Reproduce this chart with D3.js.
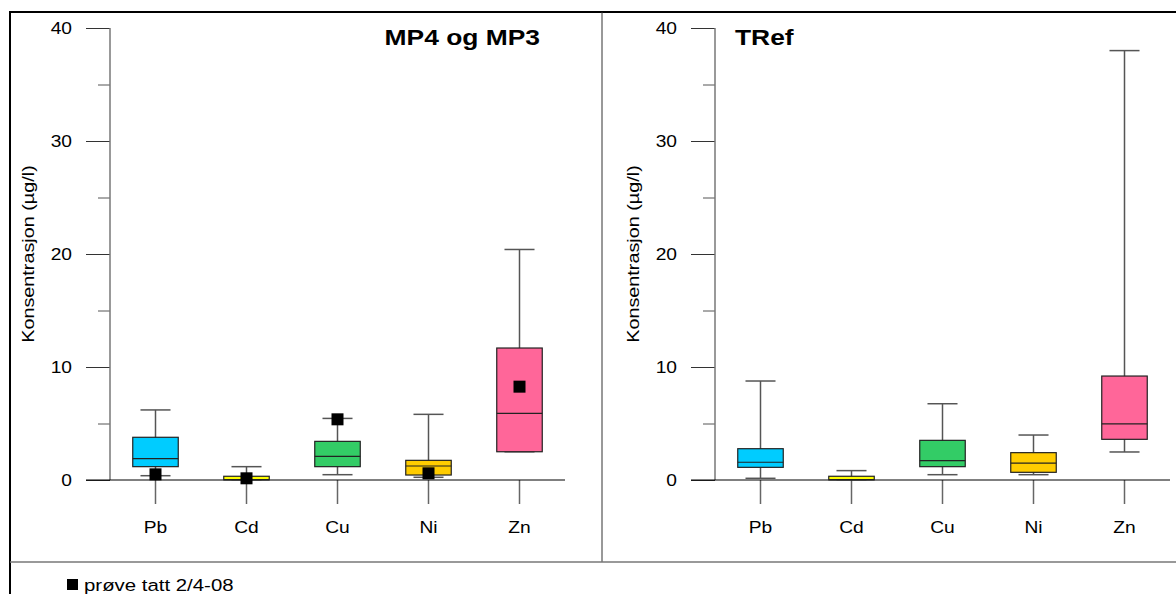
<!DOCTYPE html>
<html>
<head>
<meta charset="utf-8">
<script src="https://cdn.jsdelivr.net/npm/d3@7"></script>
<style>
  body { margin: 0; background: #fff; }
  text { font-family: "Liberation Sans", Arial, sans-serif; fill: #000; }
</style>
</head>
<body>
<div id="chart"></div>
<script>
// categories and colours
const elements = ["Pb", "Cd", "Cu", "Ni", "Zn"];
const boxColors = ["#00CCFF", "#FFFF00", "#33CC66", "#FFCC00", "#FF6699"];
const yTicks = [0, 10, 20, 30, 40];

// MP4 og MP3 (µg/l)
const mpLow    = [0.38, 0.02, 0.47, 0.24, 2.5];
const mpQ1     = [1.18, 0.02, 1.18, 0.44, 2.5];
const mpMedian = [1.89, 0.04, 2.09, 1.24, 5.9];
const mpQ3     = [3.78, 0.33, 3.42, 1.74, 11.68];
const mpHigh   = [6.2, 1.18, 5.45, 5.81, 20.4];
const mpSample = [0.5, 0.15, 5.37, 0.59, 8.26];   // prøve tatt 2/4-08

// TRef (µg/l)
const trefLow    = [0.15, 0.02, 0.47, 0.47, 2.48];
const trefQ1     = [1.12, 0.02, 1.18, 0.68, 3.6];
const trefMedian = [1.57, 0.04, 1.71, 1.5, 4.96];
const trefQ3     = [2.77, 0.33, 3.51, 2.42, 9.2];
const trefHigh   = [8.76, 0.83, 6.75, 3.98, 38.0];

const W = 1176, H = 594;
const sx = 1.2; // text in the original is a bit wider than normal

const svg = d3.select("#chart")
    .append("svg")
        .attr("width", W)
        .attr("height", H);

// frame
svg.append("rect")
    .attr("x", 10).attr("y", 12)
    .attr("width", W).attr("height", H)
    .attr("fill", "none")
    .attr("stroke", "#000")
    .attr("stroke-width", 2);

svg.append("line")
    .attr("x1", 602).attr("x2", 602)
    .attr("y1", 12).attr("y2", 562)
    .attr("stroke", "#333");

svg.append("line")
    .attr("x1", 10).attr("x2", W)
    .attr("y1", 562).attr("y2", 562)
    .attr("stroke", "#777")
    .attr("stroke-width", 1.5);

const y = d3.scaleLinear()
    .domain([0, 40])
    .range([480, 28]);

function stretchedText(g, x, y, str, size, anchor, weight) {
    return g.append("text")
        .attr("transform", `translate(${x},${y}) scale(${sx},1)`)
        .attr("text-anchor", anchor || "start")
        .style("font-size", size + "px")
        .style("font-weight", weight || "normal")
        .text(str);
}

function drawPanel(axisX, stats, title, titleX, titleAnchor) {
    const g = svg.append("g");

    const x = d3.scaleBand()
        .domain(elements)
        .range([axisX, axisX + 455]);

    // minor ticks
    g.append("g")
        .attr("transform", `translate(${axisX},0)`)
        .call(d3.axisLeft(y).tickValues(d3.range(5, 40, 10)).tickSize(12).tickFormat(""))
        .call(a => a.select(".domain").remove())
        .selectAll("line").attr("stroke", "#555");

    // major ticks + labels
    const yAxis = g.append("g")
        .attr("transform", `translate(${axisX},0)`)
        .call(d3.axisLeft(y).tickValues(yTicks).tickSize(24).tickPadding(14))
        .call(a => a.select(".domain").remove());
    yAxis.selectAll("line").attr("stroke", "#333");
    yAxis.selectAll("text")
        .attr("x", -38 / sx)
        .attr("transform", `scale(${sx},1)`)
        .style("font-size", "16px")
        .style("font-family", "Liberation Sans, Arial, sans-serif");

    g.append("line")
        .attr("x1", axisX).attr("x2", axisX)
        .attr("y1", y(0)).attr("y2", y(40))
        .attr("stroke", "#777")
        .attr("stroke-width", 1.5);

    // category axis
    const xAxis = g.append("g")
        .attr("transform", `translate(0,${y(0)})`)
        .call(d3.axisBottom(x).tickSize(24).tickPadding(18))
        .call(a => a.select(".domain").remove());
    xAxis.selectAll("line").attr("stroke", "#666").attr("stroke-width", 1.5);
    xAxis.selectAll("text")
        .attr("transform", `scale(${sx},1)`)
        .style("font-size", "16px")
        .style("font-family", "Liberation Sans, Arial, sans-serif");

    g.append("line")
        .attr("x1", axisX - 24).attr("x2", axisX + 455)
        .attr("y1", y(0)).attr("y2", y(0))
        .attr("stroke", "#000");

    // y title
    stretchedText(g, 0, 0, "Konsentrasjon (\u00b5g/l)", 16.5, "middle")
        .attr("transform", `translate(${axisX - 76},254) rotate(-90) scale(${sx},1)`);

    stretchedText(g, titleX, 45, title, 22, titleAnchor, "bold");

    const data = elements.map((e, i) => ({
        name: e,
        color: boxColors[i],
        low: stats.low[i], q1: stats.q1[i], median: stats.median[i],
        q3: stats.q3[i], high: stats.high[i],
        sample: stats.sample ? stats.sample[i] : null
    }));

    const bw = x.bandwidth();
    const boxW = bw * 0.5, capW = bw * 0.33;

    const box = g.append("g")
        .selectAll("g")
        .data(data)
        .join("g")
            .attr("transform", d => `translate(${x(d.name) + bw / 2},0)`);

    box.append("line")
        .attr("y1", d => y(d.low)).attr("y2", d => y(d.high))
        .attr("stroke", "#555").attr("stroke-width", 1.5);

    box.append("line")
        .attr("x1", -capW / 2).attr("x2", capW / 2)
        .attr("y1", d => y(d.high)).attr("y2", d => y(d.high))
        .attr("stroke", "#555").attr("stroke-width", 1.5);

    box.append("line")
        .attr("x1", -capW / 2).attr("x2", capW / 2)
        .attr("y1", d => y(d.low)).attr("y2", d => y(d.low))
        .attr("stroke", "#555").attr("stroke-width", 1.5);

    box.append("rect")
        .attr("x", -boxW / 2)
        .attr("width", boxW)
        .attr("y", d => y(d.q3))
        .attr("height", d => y(d.q1) - y(d.q3))
        .attr("fill", d => d.color)
        .attr("stroke", "#222")
        .attr("stroke-width", 1.2);

    box.append("line")
        .attr("x1", -boxW / 2).attr("x2", boxW / 2)
        .attr("y1", d => y(d.median)).attr("y2", d => y(d.median))
        .attr("stroke", "#222").attr("stroke-width", 1.2);

    box.filter(d => d.sample !== null)
        .append("rect")
            .attr("x", -6).attr("width", 12)
            .attr("y", d => y(d.sample) - 6).attr("height", 12)
            .attr("fill", "#000");
}

drawPanel(110,
    {low: mpLow, q1: mpQ1, median: mpMedian, q3: mpQ3, high: mpHigh, sample: mpSample},
    "MP4 og MP3", 540, "end");

drawPanel(715,
    {low: trefLow, q1: trefQ1, median: trefMedian, q3: trefQ3, high: trefHigh},
    "TRef", 735, "start");

// legend
svg.append("rect")
    .attr("x", 67).attr("y", 579)
    .attr("width", 11).attr("height", 11)
    .attr("fill", "#000");
stretchedText(svg, 84, 591, "pr\u00f8ve tatt 2/4-08", 17);
</script>
</body>
</html>
